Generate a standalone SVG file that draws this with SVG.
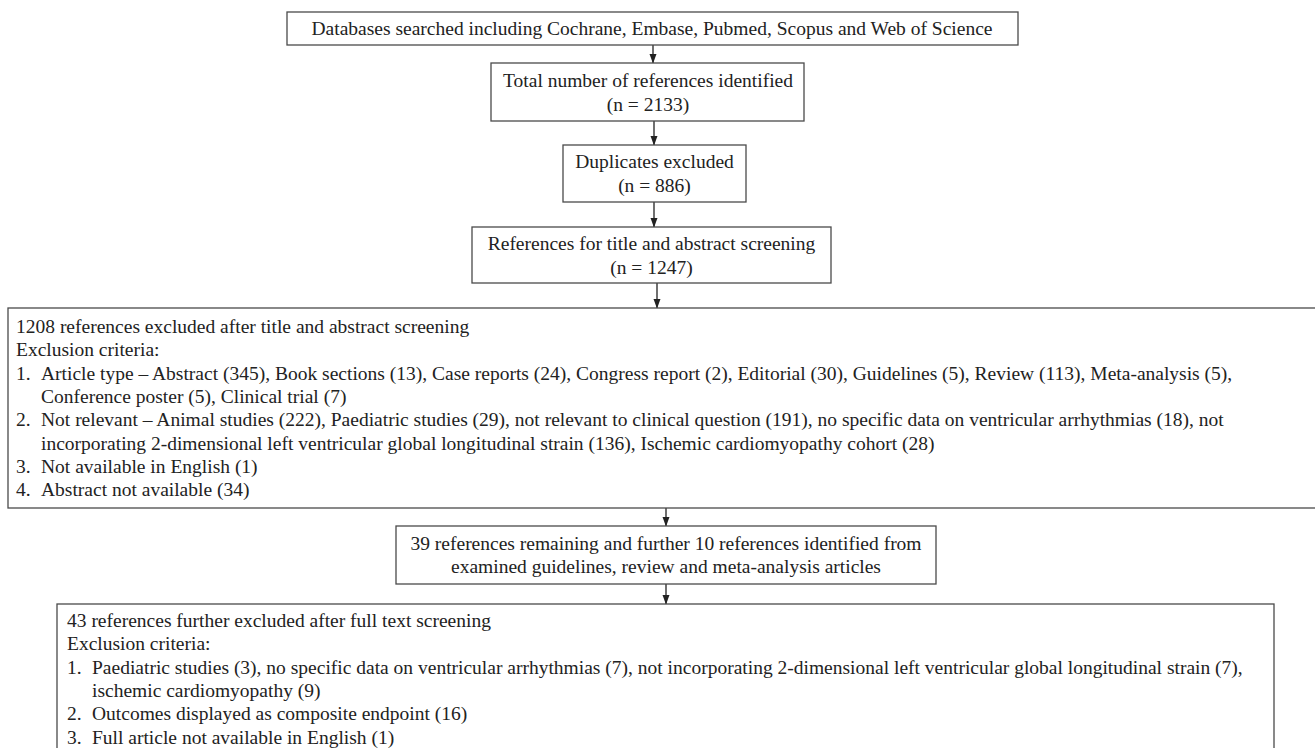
<svg xmlns="http://www.w3.org/2000/svg" width="1315" height="748" viewBox="0 0 1315 748">
<defs>
<marker id="ah" markerWidth="10" markerHeight="8" refX="9" refY="3.5" orient="auto" markerUnits="userSpaceOnUse">
<path d="M0,0 L9.5,3.5 L0,7 Z" fill="#222"/>
</marker>
<style>
.box{fill:#fff;stroke:#4a4a4a;stroke-width:1.3}
.t{font-family:"Liberation Serif","Times New Roman",serif;font-size:19.5px;fill:#222}
.c{text-anchor:middle}
.ln{stroke:#222;stroke-width:1.3;fill:none;marker-end:url(#ah)}
</style>
</defs>
<rect width="1315" height="748" fill="#fff"/>
<g id="connectors">
<line class="ln" x1="653" y1="45" x2="653" y2="63"/>
<line class="ln" x1="654" y1="121" x2="654" y2="145"/>
<line class="ln" x1="654" y1="202" x2="654" y2="227"/>
<line class="ln" x1="657" y1="283" x2="657" y2="308"/>
<line class="ln" x1="666" y1="508" x2="666" y2="526"/>
<line class="ln" x1="666" y1="584" x2="666" y2="604"/>
</g>
<g id="n1">
<rect class="box" x="287" y="12" width="731" height="33"/>
<text class="t c" x="652" y="35">Databases searched including Cochrane, Embase, Pubmed, Scopus and Web of Science</text>
</g>
<g id="n2">
<rect class="box" x="491" y="63" width="313" height="58"/>
<text class="t c" x="648" y="87">Total number of references identified</text>
<text class="t c" x="648" y="111">(n = 2133)</text>
</g>
<g id="n3">
<rect class="box" x="563" y="145" width="183" height="57"/>
<text class="t c" x="654.5" y="168">Duplicates excluded</text>
<text class="t c" x="654.5" y="192">(n = 886)</text>
</g>
<g id="n4">
<rect class="box" x="472" y="227" width="359" height="56"/>
<text class="t c" x="651.5" y="250">References for title and abstract screening</text>
<text class="t c" x="651.5" y="274">(n = 1247)</text>
</g>
<g id="n5">
<rect class="box" x="8" y="308" width="1320" height="200"/>
<text class="t" x="16" y="333">1208 references excluded after title and abstract screening</text>
<text class="t" x="16" y="356.3">Exclusion criteria:</text>
<text class="t" x="16" y="379.6">1.</text>
<text class="t" x="41" y="379.6">Article type – Abstract (345), Book sections (13), Case reports (24), Congress report (2), Editorial (30), Guidelines (5), Review (113), Meta-analysis (5),</text>
<text class="t" x="41" y="402.9">Conference poster (5), Clinical trial (7)</text>
<text class="t" x="16" y="426.2">2.</text>
<text class="t" x="41" y="426.2">Not relevant – Animal studies (222), Paediatric studies (29), not relevant to clinical question (191), no specific data on ventricular arrhythmias (18), not</text>
<text class="t" x="41" y="449.5">incorporating 2-dimensional left ventricular global longitudinal strain (136), Ischemic cardiomyopathy cohort (28)</text>
<text class="t" x="16" y="472.8">3.</text>
<text class="t" x="41" y="472.8">Not available in English (1)</text>
<text class="t" x="16" y="496.1">4.</text>
<text class="t" x="41" y="496.1">Abstract not available (34)</text>
</g>
<g id="n6">
<rect class="box" x="396" y="526" width="540" height="58"/>
<text class="t c" x="666" y="550">39 references remaining and further 10 references identified from</text>
<text class="t c" x="666" y="573">examined guidelines, review and meta-analysis articles</text>
</g>
<g id="n7">
<rect class="box" x="57" y="604" width="1217" height="200"/>
<text class="t" x="67" y="627">43 references further excluded after full text screening</text>
<text class="t" x="67" y="650.3">Exclusion criteria:</text>
<text class="t" x="67" y="673.6">1.</text>
<text class="t" x="92" y="673.6">Paediatric studies (3), no specific data on ventricular arrhythmias (7), not incorporating 2-dimensional left ventricular global longitudinal strain (7),</text>
<text class="t" x="92" y="696.9">ischemic cardiomyopathy (9)</text>
<text class="t" x="67" y="720.2">2.</text>
<text class="t" x="92" y="720.2">Outcomes displayed as composite endpoint (16)</text>
<text class="t" x="67" y="743.5">3.</text>
<text class="t" x="92" y="743.5">Full article not available in English (1)</text>
</g>
</svg>
